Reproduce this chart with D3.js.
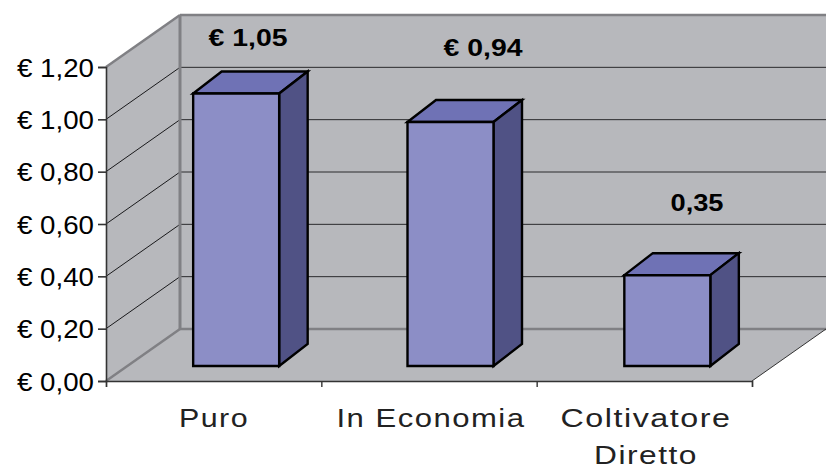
<!DOCTYPE html>
<html><head><meta charset="utf-8">
<script src="https://cdn.jsdelivr.net/npm/d3@7/dist/d3.min.js"></script>
<style>html,body{margin:0;padding:0;background:#fff}svg{display:block}text{font-family:"Liberation Sans",Arial,sans-serif}</style>
</head><body><svg id="c" width="826" height="469"></svg>
<script>
const categories = ["Puro", "In Economia", "Coltivatore Diretto"];
const values = [1.05, 0.94, 0.35];
const valueLabels = ["€ 1,05", "€ 0,94", "0,35"];
const yTicks = [0, 0.2, 0.4, 0.6, 0.8, 1.0, 1.2];

const svg = d3.select("#c");
const W = {left:106, right:752, top:67, bottom:381, dx:74, dy:-52};
const y = d3.scaleLinear().domain([0,1.2]).range([W.bottom, W.top]);
const x = d3.scaleBand().domain(categories).range([W.left, W.right]);
const barY = d3.scaleLinear().domain([0,1.2]).range([366, 366-1.2*259.5]);
const poly = (pts, fill, stroke, sw) => svg.append("polygon")
  .attr("points", pts.map(p=>p.join(",")).join(" "))
  .attr("fill", fill).attr("stroke", stroke||"none").attr("stroke-width", sw||0).attr("stroke-linejoin","miter");
const line = (a,b,c,w) => svg.append("line").attr("x1",a[0]).attr("y1",a[1]).attr("x2",b[0]).attr("y2",b[1]).attr("stroke",c).attr("stroke-width",w);

const wallCol = "#B7B8BC", gray = "#808084";
const y0 = y(0), yT = y(1.2);
poly([[W.left+W.dx,yT+W.dy],[826,yT+W.dy],[826,y0+W.dy],[W.left+W.dx,y0+W.dy]], wallCol);
poly([[W.left,yT],[W.left+W.dx,yT+W.dy],[W.left+W.dx,y0+W.dy],[W.left,y0]], wallCol);
poly([[W.left,y0],[W.left+W.dx,y0+W.dy],[826,y0+W.dy],[W.right,y0]], wallCol);

yTicks.forEach(t=>{
  const Y=y(t);
  if(t===0 || t===1.2) return;
  line([W.left,Y],[W.left+W.dx,Y+W.dy],"#1a1a1c",1);
  line([W.left+W.dx,Y+W.dy],[826,Y+W.dy],"#2a2a2c",1);
});
line([W.left+W.dx,y0+W.dy],[826,y0+W.dy],gray,2.5);
line([W.left,y0],[W.left+W.dx,y0+W.dy],gray,2.5);
line([W.left+W.dx,yT+W.dy],[W.left+W.dx,y0+W.dy],gray,3);
line([W.left+W.dx,yT+W.dy],[826,yT+W.dy],gray,2.5);
line([W.left,yT],[W.left+W.dx,yT+W.dy],gray,2.5);
line([W.right,y0],[826,y0+W.dy],"#333",1);

const bw=86, bdx=28.5, bdy=-22;
categories.forEach((c,i)=>{
  const xL = x(c)+x.bandwidth()/2-bw/2+22.5-(i===1?1:0)+(i===2?0.5:0);
  const xR=xL+bw, yt=barY(values[i]), yb=barY(0);
  poly([[xL,yt],[xL+bdx,yt+bdy],[xR+bdx,yt+bdy],[xR,yt]],"#6F72B5","#000",2.4);
  poly([[xR,yt],[xR+bdx,yt+bdy],[xR+bdx,yb+bdy],[xR,yb]],"#505285","#000",2.4);
  poly([[xL,yt],[xR,yt],[xR,yb],[xL,yb]],"#8C8EC6","#000",2.4);
});

const gy = svg.append("g").attr("transform",`translate(${W.left},0)`)
  .call(d3.axisLeft(y).tickValues(yTicks).tickSize(8).tickPadding(4)
    .tickFormat(d=>"€ "+d.toFixed(2).replace(".",",")));
gy.selectAll("line,path").attr("stroke","#333").attr("stroke-width",1.6);
gy.selectAll("text").attr("font-size",25).attr("fill","#000").attr("dy","0.36em")
  .attr("textLength",77).attr("lengthAdjust","spacingAndGlyphs");

const tickPos = d3.range(categories.length+1).map(i=>W.left+i*x.step());
const gx = svg.append("g").attr("transform",`translate(0,${W.bottom})`)
  .call(d3.axisBottom(d3.scaleLinear().domain([W.left,W.right]).range([W.left,W.right]))
    .tickValues(tickPos).tickSize(6).tickFormat(""));
gx.selectAll("line,path").attr("stroke","#333").attr("stroke-width",1.4);

const catLines=[["Puro"],["In Economia"],["Coltivatore","Diretto"]];
const catCx=[213,430,645], catLen=[[70],[189],[171,104]];
catLines.forEach((ls,i)=>ls.forEach((s,j)=>{
  svg.append("text").attr("x",catCx[i]+1).attr("y",j?464:427).attr("text-anchor","middle")
    .attr("font-size",25).attr("fill","#222").attr("letter-spacing",1.2)
    .attr("textLength",catLen[i][j]).attr("lengthAdjust","spacingAndGlyphs").text(s);
}));

const lblX=[248,483,697], lblY=[46,56,211], lblLen=[79,79,53];
valueLabels.forEach((s,i)=>{
  svg.append("text").attr("x",lblX[i]).attr("y",lblY[i]).attr("text-anchor","middle")
    .attr("font-size",24).attr("font-weight","bold").attr("fill","#000")
    .attr("textLength",lblLen[i]).attr("lengthAdjust","spacingAndGlyphs").text(s);
});
</script></body></html>
